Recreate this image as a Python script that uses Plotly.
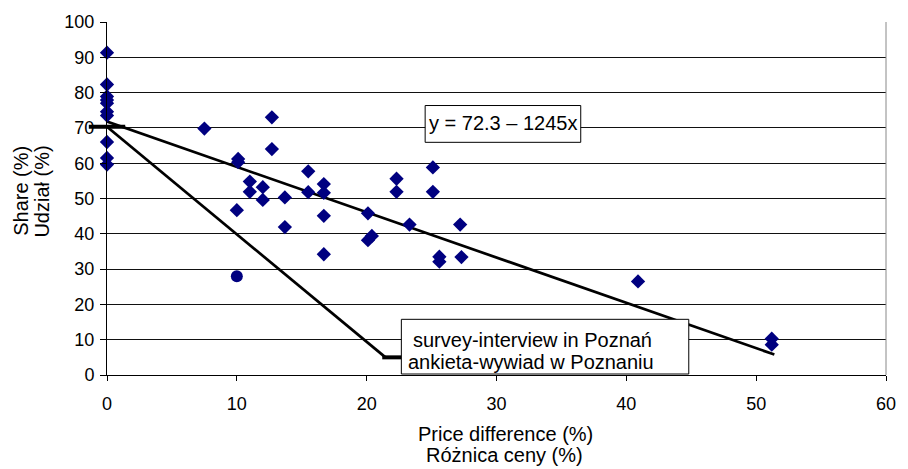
import plotly.graph_objects as go

# Survey points (price difference %, share %)
price_diff = [0, 0, 0, 0, 0, 0, 0, 0, 0, 0,
              7.5, 12.7, 12.7, 10.1, 10.1, 15.5, 11.0, 12.0, 11.0, 12.0,
              13.7, 15.5, 16.7, 16.7, 10.0, 16.7, 13.7, 16.7, 20.1, 20.4,
              20.1, 22.3, 22.3, 23.3, 25.1, 25.1, 25.6, 25.6, 27.2, 27.3,
              40.9, 51.2, 51.2]
share = [91.3, 82.3, 78.9, 77.9, 77.0, 74.6, 73.5, 66.0, 61.5, 59.6,
         69.8, 73.0, 64.0, 61.2, 60.3, 57.7, 54.8, 53.2, 51.9, 49.6,
         50.3, 51.8, 54.1, 51.6, 46.7, 45.1, 41.9, 34.2, 45.8, 39.4,
         38.2, 55.6, 51.9, 42.6, 58.8, 51.9, 33.5, 32.1, 42.6, 33.4,
         26.5, 10.3, 8.6]

# Poznań survey-interview point
poznan_x = [10.0]
poznan_y = [28.0]

# Regression line endpoints
reg_x = [0, 51.4]
reg_y = [71.8, 5.8]

# Callout leader line
leader_x = [0, 21.45]
leader_y = [70.3, 5.0]
bar_x = [21.2, 22.7]
bar_y = [5.0, 5.0]

x_ticks = [0, 10, 20, 30, 40, 50, 60]
y_ticks = [0, 10, 20, 30, 40, 50, 60, 70, 80, 90, 100]

FONT = "Liberation Sans, Arial, sans-serif"

# plot-area pixel geometry helpers (for text boxes)
L, R, T, B = 107, 893, 20, 375
W, H = R - L, B - T


def px(xp):
    return (xp - L) / W


def py(yp):
    return (B - yp) / H


def label(text, xp, yp, size=20, angle=0):
    return dict(text=text, xref="paper", yref="paper", x=px(xp), y=py(yp),
                xanchor="center", yanchor="middle", showarrow=False,
                textangle=angle, font=dict(size=size))


fig = go.Figure()

fig.add_trace(go.Scatter(x=reg_x, y=reg_y, mode="lines",
                         line=dict(color="black", width=2.7), showlegend=False,
                         hoverinfo="skip"))
fig.add_trace(go.Scatter(x=leader_x, y=leader_y, mode="lines",
                         line=dict(color="black", width=2.7), showlegend=False,
                         hoverinfo="skip"))
fig.add_trace(go.Scatter(x=bar_x, y=bar_y, mode="lines",
                         line=dict(color="black", width=4), showlegend=False,
                         hoverinfo="skip"))
fig.add_trace(go.Scatter(x=[0], y=[70.3], mode="markers",
                         marker=dict(symbol="line-ew", size=26,
                                     line=dict(color="black", width=4)),
                         showlegend=False, cliponaxis=False, hoverinfo="skip"))
fig.add_trace(go.Scatter(x=price_diff, y=share, mode="markers",
                         marker=dict(symbol="diamond", size=11, color="#000080",
                                     line=dict(width=0)),
                         showlegend=False, cliponaxis=False))
fig.add_trace(go.Scatter(x=poznan_x, y=poznan_y, mode="markers",
                         marker=dict(symbol="circle", size=12, color="#000080",
                                     line=dict(width=0)),
                         showlegend=False, cliponaxis=False))

fig.update_layout(
    width=908, height=469,
    margin=dict(l=L, r=908 - R, t=T, b=469 - B),
    paper_bgcolor="white", plot_bgcolor="white",
    font=dict(family=FONT, size=18, color="black"),
    xaxis=dict(range=[0, 60], tickvals=x_ticks, showgrid=False, zeroline=False,
               showline=True, linecolor="black", linewidth=1,
               ticks="outside", ticklen=5, tickcolor="black",
               tickfont=dict(size=18), ticklabelstandoff=7),
    yaxis=dict(range=[0, 100], tickvals=y_ticks, showgrid=True,
               gridcolor="#111111", gridwidth=1, zeroline=False,
               showline=True, linecolor="black", linewidth=1,
               ticks="outside", ticklen=6, tickcolor="black",
               tickfont=dict(size=18), ticklabelstandoff=2),
    shapes=[
        dict(type="line", xref="paper", yref="paper", x0=1, x1=1, y0=0, y1=1,
             line=dict(color="#888888", width=1)),
        dict(type="rect", xref="paper", yref="paper",
             x0=px(428), x1=px(585), y0=py(141), y1=py(104),
             fillcolor="white", line=dict(color="black", width=1), layer="above"),
        dict(type="rect", xref="paper", yref="paper",
             x0=px(404), x1=px(694), y0=py(374), y1=py(319),
             fillcolor="white", line=dict(color="black", width=1), layer="above"),
    ],
    annotations=[
        label("y = 72.3 – 1245x", 507, 122),
        label("survey-interview in Poznań", 536.5, 340),
        label("ankieta-wywiad w Poznaniu", 534.5, 361.5),
        label("Price difference (%)", 509, 434),
        label("Różnica ceny (%)", 508, 455),
        label("Share (%)", 20, 190, angle=-90),
        label("Udział (%)", 41, 191, angle=-90),
    ],
)

fig.write_html("out.html")
